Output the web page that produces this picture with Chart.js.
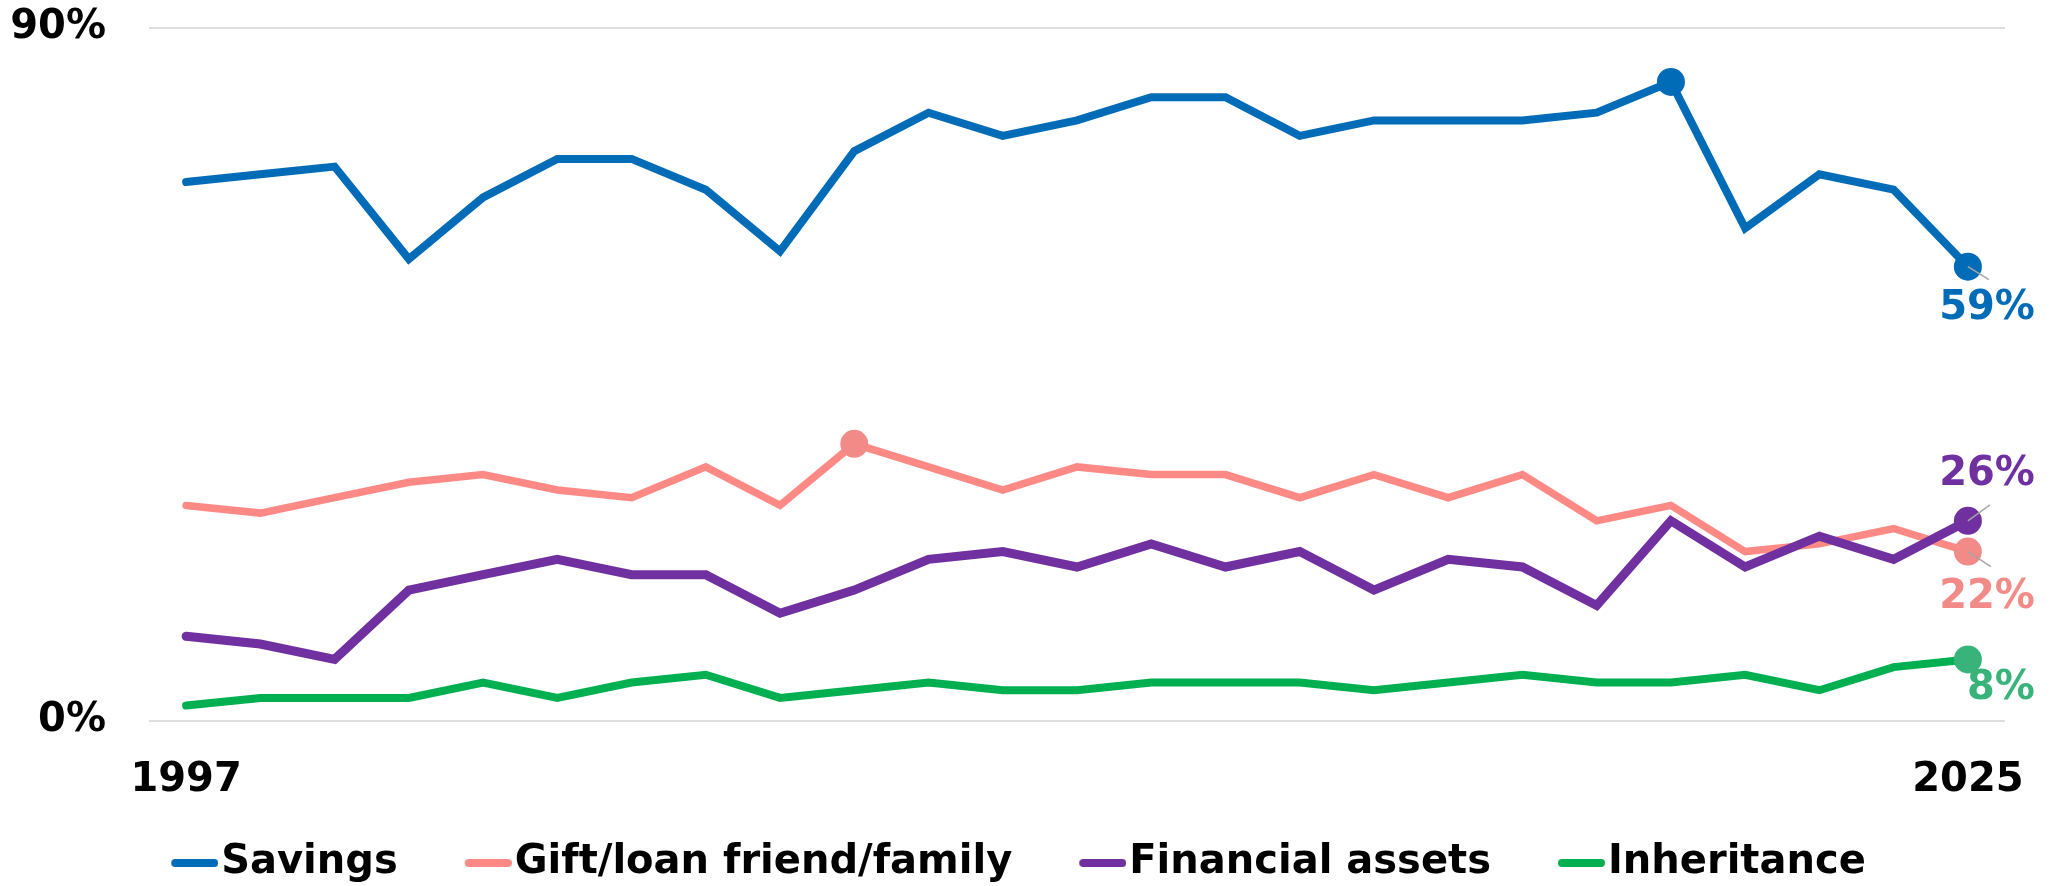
<!DOCTYPE html>
<html>
<head>
<meta charset="utf-8">
<script src="https://cdn.jsdelivr.net/npm/chart.js@4.4.1/dist/chart.umd.min.js"></script>
<style>
  html, body { margin: 0; padding: 0; background: #ffffff; }
  canvas { display: block; }
</style>
</head>
<body>
<canvas id="c" width="2055" height="886"></canvas>
<script>
// ---------- data ----------
const years = ['1997','1999','2001','2003','2005','2006','2007','2008','2009','2010','2011','2012','2013',
               '2014','2015','2016','2017','2018','2019','2020','2021','2022','2023','2024','2025'];
const seriesNames = ['Savings', 'Gift/loan friend/family', 'Financial assets', 'Inheritance'];
const savings     = [70, 71, 72, 60, 68, 73, 73, 69, 61, 74, 79, 76, 78, 81, 81, 76, 78, 78, 78, 79, 83, 64, 71, 69, 59];
const giftLoan    = [28, 27, 29, 31, 32, 30, 29, 33, 28, 36, 33, 30, 33, 32, 32, 29, 32, 29, 32, 26, 28, 22, 23, 25, 22];
const financial   = [11, 10,  8, 17, 19, 21, 19, 19, 14, 17, 21, 22, 20, 23, 20, 22, 17, 21, 20, 15, 26, 20, 24, 21, 26];
const inheritance = [ 2,  3,  3,  3,  5,  3,  5,  6,  3,  4,  5,  4,  4,  5,  5,  5,  4,  5,  6,  5,  5,  6,  4,  7,  8];
const yTicks = [0, 90];
// indices of highlighted points per series
const savingsMarks = [20, 24];
const giftMarks = [9, 24];
const financialMarks = [24];
const inheritanceMarks = [24];

// ---------- styles ----------
const FONT = 'DejaVu Sans';
const lineColors   = ['#006BB6', '#FF8A85', '#7030A0', '#00B050'];
const markerColors = ['#006BB6', '#F28B87', '#7030A0', '#38B47B'];
const lineWidths   = [8, 7.5, 9, 8];
const drawOrder    = [1, 3, 2, 4];
// end-label placement (offsets from the last point) and leader lines
const labelDX = 67;
const labelDY = [42, 46, -46, 29];
const leader  = [[21, 13], [23, 15], [22, -16], null];

const allSeries = [savings, giftLoan, financial, inheritance];
const allMarks = [savingsMarks, giftMarks, financialMarks, inheritanceMarks];

// legend swatch images (line with tiny gap before text)
const LEG = { lead: 32, sw: 47, gap: 3, half: 20, pad: 35 };
const legBox = LEG.lead + LEG.sw + LEG.gap - LEG.half;
function makeSwatch(color) {
  const W = Math.round(2 * (LEG.lead + LEG.sw - legBox / 2));
  const c = document.createElement('canvas');
  c.width = W; c.height = 12;
  const x = c.getContext('2d');
  x.strokeStyle = color; x.lineWidth = 8; x.lineCap = 'round';
  x.beginPath();
  x.moveTo(W - LEG.sw + 4, 6);
  x.lineTo(W - 4, 6);
  x.stroke();
  return c;
}
const swatches = lineColors.map(makeSwatch);

const endLabels = {
  id: 'endLabels',
  afterDatasetsDraw(chart) {
    const ctx = chart.ctx;
    ctx.save();
    chart.data.datasets.forEach((ds, i) => {
      const meta = chart.getDatasetMeta(i);
      const n = ds.data.length - 1;
      const pt = meta.data[n];
      if (!pt) return;
      if (leader[i]) {
        ctx.strokeStyle = '#A6A6A6';
        ctx.lineWidth = 1.5;
        ctx.beginPath();
        ctx.moveTo(pt.x, pt.y);
        ctx.lineTo(pt.x + leader[i][0], pt.y + leader[i][1]);
        ctx.stroke();
      }
      ctx.fillStyle = markerColors[i];
      ctx.font = 'bold 40px "' + FONT + '"';
      ctx.textAlign = 'right';
      ctx.textBaseline = 'middle';
      ctx.fillText(ds.data[n] + '%', pt.x + labelDX, pt.y + labelDY[i]);
    });
    ctx.restore();
  }
};

const datasets = allSeries.map((vals, i) => ({
  label: seriesNames[i],
  data: vals,
  borderColor: lineColors[i],
  backgroundColor: lineColors[i],
  borderWidth: lineWidths[i],
  borderCapStyle: 'round',
  borderJoinStyle: 'miter',
  tension: 0,
  fill: false,
  order: drawOrder[i],
  pointRadius: (c) => allMarks[i].includes(c.dataIndex) ? 14 : 0,
  pointHoverRadius: (c) => allMarks[i].includes(c.dataIndex) ? 14 : 0,
  pointBorderWidth: 0,
  pointBackgroundColor: markerColors[i],
  pointBorderColor: markerColors[i]
}));

const tickFont = { family: FONT, size: 40, weight: 'bold' };

new Chart(document.getElementById('c'), {
  type: 'line',
  data: { labels: years, datasets },
  options: {
    responsive: false,
    animation: false,
    devicePixelRatio: 1,
    layout: { padding: { top: 28, right: 50, bottom: -7, left: 0 } },
    plugins: {
      tooltip: { enabled: false },
      legend: {
        position: 'bottom',
        align: 'center',
        labels: {
          usePointStyle: true,
          pointStyleWidth: legBox,
          padding: LEG.pad,
          color: '#000000',
          font: tickFont,
          sort: (a, b) => a.datasetIndex - b.datasetIndex,
          generateLabels(chart) {
            const items = Chart.defaults.plugins.legend.labels.generateLabels(chart);
            items.forEach(it => { it.pointStyle = swatches[it.datasetIndex]; });
            return items;
          }
        }
      }
    },
    scales: {
      x: {
        offset: true,
        grid: { display: false, drawTicks: false, offset: true },
        border: { display: false },
        ticks: {
          autoSkip: false, maxRotation: 0, minRotation: 0,
          padding: 36, color: '#000000', font: tickFont,
          callback: (v, i) => (i === 0 || i === years.length - 1) ? years[i] : null
        },
        afterFit(s) { s.height = 87; s.paddingLeft = 0; s.paddingRight = 0; }
      },
      y: {
        min: yTicks[0], max: yTicks[1],
        grid: { color: '#DEDEDE', lineWidth: 2, drawTicks: false },
        border: { display: false },
        ticks: {
          stepSize: yTicks[1] - yTicks[0],
          padding: 43, color: '#000000', font: tickFont,
          callback: v => v + '%'
        },
        afterFit(s) { s.width = 149; s.paddingTop = 0; s.paddingBottom = 0; }
      }
    }
  },
  plugins: [endLabels]
});
</script>
</body>
</html>
